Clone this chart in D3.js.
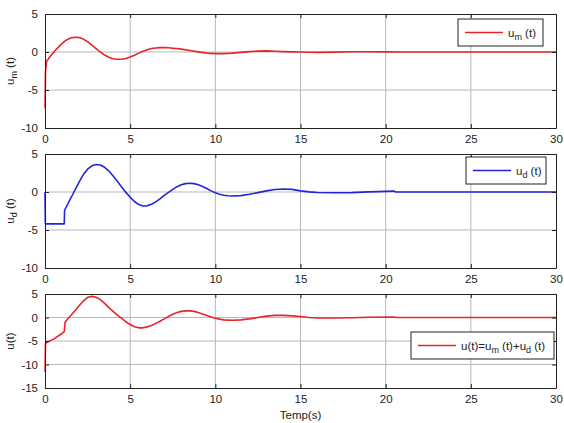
<!DOCTYPE html>
<html lang="en">
<head>
<meta charset="UTF-8">
<title>u_m, u_d, u</title>
<style>
  body { margin: 0; background: #fff; }
  svg { display: block; font-family: "Liberation Sans", Arial, sans-serif; }
</style>
</head>
<body>
<div id="chart"></div>
<script src="https://d3js.org/d3.v7.min.js"></script>
<script>
// u_m(t) samples (time s, value)
const umT = [0, 0.03, 0.1, 0.3, 0.6, 0.9, 1.2, 1.5, 1.75, 2.0, 2.25, 2.5, 2.75, 3.0, 3.25, 3.5, 3.75, 4.0, 4.25, 4.5, 4.75, 5.0, 5.25, 5.5, 5.75, 6.0, 6.25, 6.5, 6.75, 7.0, 7.25, 7.5, 7.75, 8.0, 8.5, 9.0, 9.5, 10.0, 10.5, 11, 11.5, 12, 12.5, 13, 13.5, 14, 14.5, 15, 15.5, 16, 17, 18, 19, 20, 21, 30];
const umV = [-7.4, -2.5, -1.2, -0.6, 0.2, 0.9, 1.5, 1.85, 1.95, 1.9, 1.7, 1.35, 0.9, 0.45, 0.0, -0.4, -0.7, -0.88, -0.96, -0.95, -0.85, -0.65, -0.42, -0.15, 0.1, 0.3, 0.45, 0.53, 0.57, 0.57, 0.55, 0.5, 0.45, 0.38, 0.2, 0.02, -0.15, -0.22, -0.22, -0.15, -0.05, 0.05, 0.12, 0.15, 0.1, 0.05, 0.02, 0.0, -0.03, -0.05, -0.02, 0.03, 0.03, 0.01, 0, 0];

// u_d(t) samples
const udT = [0, 0.02, 1.13, 1.15, 1.4, 1.7, 2.0, 2.25, 2.5, 2.75, 3.0, 3.25, 3.5, 3.75, 4.0, 4.25, 4.5, 4.75, 5.0, 5.25, 5.5, 5.75, 6.0, 6.25, 6.5, 6.75, 7.0, 7.25, 7.5, 7.75, 8.0, 8.25, 8.5, 8.75, 9.0, 9.25, 9.5, 9.75, 10.0, 10.25, 10.5, 10.75, 11.0, 11.5, 12.0, 12.5, 13.0, 13.5, 14.0, 14.5, 15.0, 15.5, 16, 17, 18, 19, 20.5, 20.6, 30];
const udV = [0, -4.2, -4.2, -2.4, -1.3, 0, 1.3, 2.3, 3.0, 3.45, 3.62, 3.55, 3.25, 2.75, 2.1, 1.4, 0.65, -0.05, -0.7, -1.25, -1.65, -1.84, -1.82, -1.62, -1.3, -0.9, -0.45, -0.05, 0.35, 0.7, 0.95, 1.1, 1.15, 1.1, 0.95, 0.72, 0.45, 0.15, -0.1, -0.3, -0.42, -0.5, -0.53, -0.48, -0.3, -0.08, 0.15, 0.32, 0.4, 0.35, 0.15, 0.02, -0.07, -0.1, -0.08, 0.02, 0.12, 0, 0];

// u(t) samples
const uT = [0, 0.03, 0.1, 0.5, 1.0, 1.13, 1.18, 1.4, 1.6, 1.8, 2.0, 2.25, 2.5, 2.75, 3.0, 3.25, 3.5, 3.75, 4.0, 4.25, 4.5, 4.75, 5.0, 5.25, 5.5, 5.75, 6.0, 6.25, 6.5, 6.75, 7.0, 7.25, 7.5, 7.75, 8.0, 8.25, 8.5, 8.75, 9.0, 9.25, 9.5, 9.75, 10.0, 10.25, 10.5, 10.75, 11, 11.5, 12, 12.5, 13, 13.5, 14, 14.5, 15, 15.5, 16, 17, 18, 19, 20.5, 20.6, 30];
const uV = [-11.6, -5.6, -5.3, -4.6, -3.4, -3.0, -1.0, 0.0, 0.8, 1.6, 2.5, 3.5, 4.3, 4.5, 4.3, 3.8, 3.0, 2.1, 1.3, 0.5, -0.2, -0.9, -1.5, -1.95, -2.2, -2.2, -2.0, -1.7, -1.25, -0.8, -0.3, 0.2, 0.7, 1.05, 1.3, 1.4, 1.4, 1.3, 1.05, 0.75, 0.45, 0.1, -0.15, -0.35, -0.5, -0.55, -0.58, -0.5, -0.3, 0.0, 0.3, 0.45, 0.45, 0.35, 0.2, 0.0, -0.1, -0.12, -0.05, 0.05, 0.12, 0, 0];

const xTicks = [0, 5, 10, 15, 20, 25, 30];
const yTicksA = [-10, -5, 0, 5];
const yTicksB = [-15, -10, -5, 0, 5];

const W = 564, H = 423;
const left = 45, right = 556;

const svg = d3.select('#chart').append('svg')
  .attr('width', W).attr('height', H);

const x = d3.scaleLinear().domain([0, 30]).range([left, right]);

function panel(o) {
  const y = d3.scaleLinear().domain(o.domain).range([o.bottom, o.top]);
  const g = svg.append('g');

  // grid
  g.append('g').selectAll('line').data(xTicks.slice(1, -1)).join('line')
    .attr('x1', d => x(d)).attr('x2', d => x(d))
    .attr('y1', o.top).attr('y2', o.bottom)
    .attr('stroke', '#b8b8b8').attr('stroke-width', 1);
  g.append('g').selectAll('line').data(o.ticks.slice(1, -1)).join('line')
    .attr('x1', left).attr('x2', right)
    .attr('y1', d => y(d)).attr('y2', d => y(d))
    .attr('stroke', '#b8b8b8').attr('stroke-width', 1);

  // data line
  const pts = o.t.map((t, i) => [t, o.v[i]]);
  g.append('path')
    .datum(pts)
    .attr('fill', 'none')
    .attr('stroke', o.color)
    .attr('stroke-width', 1.6)
    .attr('stroke-linejoin', 'round')
    .attr('d', d3.line().x(d => x(d[0])).y(d => y(d[1])));

  // axes with inward ticks, MATLAB-like box
  const fmt = d => d;
  g.append('g').attr('transform', `translate(0,${o.bottom})`)
    .call(d3.axisBottom(x).tickValues(xTicks).tickSizeInner(-4).tickSizeOuter(0).tickPadding(7).tickFormat(fmt));
  g.append('g').attr('transform', `translate(0,${o.top})`)
    .call(d3.axisTop(x).tickValues(xTicks).tickSizeInner(-4).tickSizeOuter(0).tickFormat(''));
  g.append('g').attr('transform', `translate(${left},0)`)
    .call(d3.axisLeft(y).tickValues(o.ticks).tickSizeInner(-4).tickSizeOuter(0).tickPadding(7).tickFormat(fmt));
  g.append('g').attr('transform', `translate(${right},0)`)
    .call(d3.axisRight(y).tickValues(o.ticks).tickSizeInner(-4).tickSizeOuter(0).tickFormat(''));

  g.selectAll('.domain').attr('stroke', '#222');
  g.selectAll('.tick line').attr('stroke', '#222');
  g.selectAll('.tick text').attr('font-size', 11.5).attr('fill', '#222')
    .attr('font-family', '"Liberation Sans", Arial, sans-serif');

  // y label
  const yl = g.append('text')
    .attr('transform', `translate(${o.ylx},${(o.top + o.bottom) / 2}) rotate(-90)`)
    .attr('text-anchor', 'middle')
    .attr('font-size', 11.5).attr('fill', '#222');
  o.ylabel.forEach(p => {
    yl.append('tspan').text(p.s).attr('font-size', p.sub ? 9 : 11.5)
      .attr('dy', p.sub ? 3 : (p.back ? -3 : 0));
  });

  // legend
  const L = o.legend;
  g.append('rect').attr('x', L.x).attr('y', L.y).attr('width', L.w).attr('height', L.h)
    .attr('fill', '#fff').attr('stroke', '#222').attr('stroke-width', 1);
  g.append('line').attr('x1', L.x + 7).attr('x2', L.x + 45)
    .attr('y1', L.y + L.h / 2).attr('y2', L.y + L.h / 2)
    .attr('stroke', o.color).attr('stroke-width', 1.6);
  const lt = g.append('text').attr('x', L.x + 50).attr('y', L.y + L.h / 2 + 4)
    .attr('font-size', 11.5).attr('fill', '#222');
  L.parts.forEach(p => {
    lt.append('tspan').text(p.s).attr('font-size', p.sub ? 9 : 11.5)
      .attr('dy', p.sub ? 3 : (p.back ? -3 : 0));
  });
}

panel({
  t: umT, v: umV, color: '#e8242a', domain: [-10, 5], ticks: yTicksA,
  top: 14, bottom: 128, ylx: 14,
  ylabel: [{ s: 'u' }, { s: 'm', sub: true }, { s: ' (t)', back: true }],
  legend: { x: 458, y: 19, w: 85, h: 27,
    parts: [{ s: 'u' }, { s: 'm', sub: true }, { s: '  (t)', back: true }] }
});

panel({
  t: udT, v: udV, color: '#2424dc', domain: [-10, 5], ticks: yTicksA,
  top: 154, bottom: 268, ylx: 14,
  ylabel: [{ s: 'u' }, { s: 'd', sub: true }, { s: ' (t)', back: true }],
  legend: { x: 466, y: 157, w: 80, h: 27,
    parts: [{ s: 'u' }, { s: 'd', sub: true }, { s: ' (t)', back: true }] }
});

panel({
  t: uT, v: uV, color: '#e8242a', domain: [-15, 5], ticks: yTicksB,
  top: 294, bottom: 388, ylx: 14,
  ylabel: [{ s: 'u(t)' }],
  legend: { x: 411, y: 332, w: 143, h: 27,
    parts: [{ s: 'u(t)=u' }, { s: 'm', sub: true }, { s: '  (t)+u', back: true }, { s: 'd', sub: true }, { s: ' (t)', back: true }] }
});

svg.append('text')
  .attr('x', (left + right) / 2).attr('y', 419)
  .attr('text-anchor', 'middle')
  .attr('font-size', 11.5).attr('fill', '#222')
  .text('Temp(s)');
</script>
</body>
</html>
